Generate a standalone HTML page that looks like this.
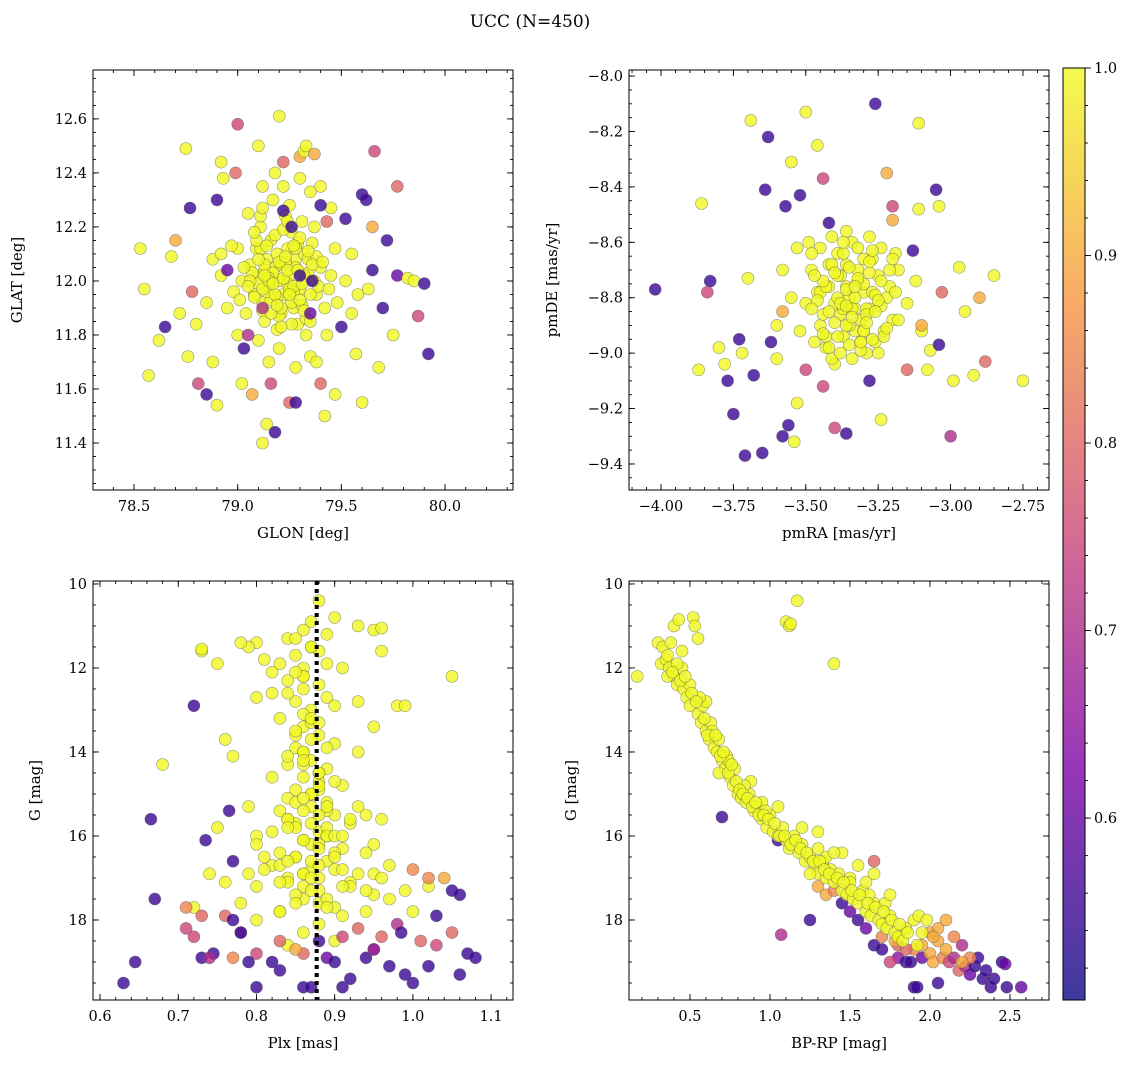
<!DOCTYPE html>
<html><head><meta charset="utf-8"><style>
body{margin:0;background:#fff;}
svg{display:block;font-family:"DejaVu Serif","Liberation Serif",serif;}
</style></head><body>
<svg id="fig" width="1135" height="1068" viewBox="0 0 1135 1068" xmlns="http://www.w3.org/2000/svg">
<text x="530" y="27" text-anchor="middle" font-size="17">UCC (N=450)</text>
</svg>
<script>
// ---- Panel 1 data: GLON / GLAT ----
const p1OutX=[78.53,78.55,78.57,78.62,78.65,78.68,78.70,78.72,78.75,78.76,78.77,78.78,78.80,78.81,78.85,78.88,78.90,78.92,78.93,78.90,78.92,78.95,78.97,78.99,79.00,79.02,79.03,79.05,79.07,79.10,79.12,79.12,79.14,79.16,79.18,79.20,79.22,79.25,79.26,79.30,79.32,79.33,79.35,79.37,79.38,79.40,79.42,79.43,79.45,79.47,79.50,79.52,79.55,79.57,79.58,79.60,79.62,79.63,79.65,79.65,79.66,79.68,79.70,79.72,79.75,79.77,79.77,79.82,79.85,79.87,79.90,79.92,79.60,79.35,79.28,79.40,79.30,79.12,79.22,79.36];
const p1OutY=[12.12,11.97,11.65,11.78,11.83,12.09,12.15,11.88,12.49,11.72,12.27,11.96,11.84,11.62,11.58,11.70,11.54,12.44,12.38,12.30,12.10,12.04,12.13,12.40,12.58,11.62,11.75,11.80,11.58,12.50,12.27,11.40,11.47,11.62,11.44,12.61,12.44,11.55,12.20,12.46,12.48,12.50,12.33,12.47,11.70,11.62,11.50,12.22,12.27,11.58,11.83,12.23,12.10,11.73,11.95,12.32,12.30,11.97,12.04,12.20,12.48,11.68,11.90,12.15,11.80,12.35,12.02,12.01,12.00,11.87,11.99,11.73,11.55,11.88,11.55,12.28,12.02,11.90,12.26,12.00];
const p1OutP=[1,1,1,1,.55,1,.9,1,1,1,.55,.8,1,.75,.55,1,1,1,1,.55,1,.6,1,.8,.75,1,.55,.7,.9,1,1,1,1,.75,.55,1,.8,.8,.55,.9,1,1,1,.9,1,.8,1,.8,1,1,.55,.55,1,1,1,.55,.55,1,.55,.9,.75,1,.55,.55,1,.8,.6,1,1,.75,.55,.55,1,.6,.55,.55,.55,.7,.55,.55];
const p1CoreX=[79.20,79.25,79.15,79.22,79.18,79.28,79.10,79.30,79.12,79.24,79.16,79.34,79.06,79.21,79.27,79.08,79.32,79.14,79.38,79.02,79.19,79.26,79.11,79.36,79.04,79.29,79.40,79.00,79.23,79.13,79.33,79.17,79.42,78.98,79.31,79.09,79.37,79.45,78.95,79.20,79.25,79.05,79.47,79.15,79.35,79.10,78.92,79.48,79.22,79.28,79.43,79.00,79.52,78.88,79.18,79.30,79.55,78.85,79.12,79.40,79.21,79.19,79.24,79.17,79.27,79.13];
const p1CoreY=[12.00,12.02,11.98,11.95,12.05,12.08,12.02,11.97,11.92,12.12,12.15,12.03,12.06,11.88,11.90,11.95,12.10,12.08,11.95,12.00,11.82,12.18,12.20,12.14,11.88,11.84,12.05,12.12,12.24,11.85,11.80,12.30,11.90,11.96,12.22,12.12,12.20,12.02,11.90,11.75,12.28,12.25,12.12,11.70,11.72,11.78,12.02,11.92,12.35,11.68,11.80,11.80,12.00,12.08,12.40,12.38,11.88,11.92,12.35,12.35,12.06,11.94,11.99,12.01,11.96,12.04];
const p1DenseX=[79.07,79.10,79.13,79.16,79.19,79.22,79.25,79.28,79.31,79.34,79.37,79.08,79.11,79.14,79.17,79.20,79.23,79.26,79.29,79.32,79.35,79.38,79.06,79.09,79.12,79.15,79.18,79.21,79.24,79.27,79.30,79.33,79.36,79.10,79.14,79.18,79.22,79.26,79.30,79.34,79.12,79.16,79.20,79.24,79.28,79.32,79.05,79.39,79.03,79.41,79.15,79.25,79.19,79.23,79.13,79.29,79.17,79.27,79.21,79.11,79.31,79.08,79.35,79.44,79.01];
const p1DenseY=[12.03,11.99,12.06,11.93,12.10,12.01,11.97,12.05,11.91,12.08,12.00,11.94,12.12,11.96,12.03,11.87,12.07,11.92,12.14,12.02,11.95,12.09,12.00,12.15,11.89,12.01,12.17,11.90,12.04,11.98,12.16,11.86,12.06,12.08,12.13,11.95,12.19,11.84,11.93,12.11,11.97,11.88,12.07,12.22,12.12,11.89,11.98,11.98,12.05,12.07,12.00,11.95,11.91,12.09,12.02,12.04,11.99,12.13,11.83,12.24,11.99,12.18,11.85,11.97,11.93];

// ---- Panel 2 data: pmRA / pmDE ----
const p2OutX=[-4.02,-3.87,-3.86,-3.83,-3.84,-3.80,-3.78,-3.77,-3.75,-3.73,-3.72,-3.70,-3.68,-3.71,-3.69,-3.65,-3.64,-3.63,-3.62,-3.60,-3.58,-3.58,-3.57,-3.56,-3.55,-3.54,-3.53,-3.52,-3.50,-3.50,-3.48,-3.46,-3.44,-3.44,-3.42,-3.40,-3.36,-3.28,-3.26,-3.24,-3.22,-3.20,-3.20,-3.13,-3.15,-3.11,-3.11,-3.10,-3.07,-3.05,-3.04,-3.03,-3.04,-3.00,-2.99,-2.97,-2.95,-2.90,-2.88,-2.85,-2.75,-2.92,-3.08];
const p2OutY=[-8.77,-9.06,-8.46,-8.74,-8.78,-8.98,-9.04,-9.10,-9.22,-8.95,-9.00,-8.73,-9.08,-9.37,-8.16,-9.36,-8.41,-8.22,-8.96,-9.02,-8.85,-9.30,-8.47,-9.26,-8.31,-9.32,-9.18,-8.43,-8.13,-9.06,-8.64,-8.25,-9.12,-8.37,-8.53,-9.27,-9.29,-9.10,-8.10,-9.24,-8.35,-8.52,-8.47,-8.63,-9.06,-8.17,-8.48,-8.90,-8.99,-8.41,-8.97,-8.78,-8.47,-9.30,-9.10,-8.69,-8.85,-8.80,-9.03,-8.72,-9.10,-9.08,-9.06];
const p2OutP=[.55,1,1,.55,.75,1,1,.55,.55,.55,1,1,.55,.55,1,.55,.55,.55,.55,1,.9,.55,.55,.55,1,1,1,.55,1,.75,1,1,.75,.75,.55,.75,.55,.55,.55,1,.9,.9,.75,.55,.8,1,1,.9,1,.55,.55,.8,1,.7,1,1,1,.9,.8,1,1,1,1];
const p2CoreX=[-3.35,-3.30,-3.40,-3.32,-3.38,-3.28,-3.42,-3.25,-3.45,-3.36,-3.33,-3.22,-3.48,-3.31,-3.39,-3.27,-3.43,-3.20,-3.50,-3.34,-3.29,-3.37,-3.24,-3.46,-3.18,-3.52,-3.41,-3.26,-3.33,-3.38,-3.30,-3.44,-3.21,-3.47,-3.35,-3.55,-3.15,-3.40,-3.28,-3.36,-3.31,-3.49,-3.23,-3.42,-3.34,-3.58,-3.12,-3.39,-3.27,-3.45,-3.32,-3.37,-3.25,-3.53,-3.19,-3.43,-3.30,-3.36,-3.41,-3.29,-3.60,-3.10];
const p2CoreY=[-8.80,-8.78,-8.82,-8.74,-8.86,-8.84,-8.76,-8.72,-8.90,-8.68,-8.92,-8.80,-8.70,-8.96,-8.64,-8.66,-8.98,-8.88,-8.82,-8.60,-9.00,-8.94,-8.62,-8.78,-8.70,-8.92,-8.58,-8.96,-8.84,-8.72,-8.66,-8.86,-8.76,-8.96,-8.90,-8.80,-8.82,-9.04,-8.58,-8.76,-8.88,-8.60,-8.92,-8.68,-9.02,-8.70,-8.74,-8.80,-8.78,-8.62,-8.70,-8.84,-9.00,-8.62,-8.64,-8.94,-8.92,-8.56,-9.02,-8.84,-8.90,-8.92];
const p2DenseX=[-3.45,-3.42,-3.39,-3.36,-3.33,-3.30,-3.27,-3.24,-3.21,-3.18,-3.44,-3.41,-3.38,-3.35,-3.32,-3.29,-3.26,-3.23,-3.20,-3.43,-3.40,-3.37,-3.34,-3.31,-3.28,-3.25,-3.22,-3.46,-3.36,-3.30,-3.40,-3.34,-3.28,-3.38,-3.32,-3.26,-3.44,-3.48,-3.19,-3.35,-3.31,-3.37,-3.29,-3.42,-3.24,-3.33,-3.39,-3.27,-3.36,-3.47];
const p2DenseY=[-8.78,-8.85,-8.72,-8.90,-8.80,-8.75,-8.95,-8.83,-8.70,-8.88,-8.93,-8.68,-8.82,-8.97,-8.73,-8.86,-8.79,-8.94,-8.66,-8.76,-8.89,-8.64,-8.84,-8.99,-8.71,-8.81,-8.91,-8.81,-8.77,-8.92,-8.71,-8.87,-8.67,-9.00,-8.62,-8.85,-8.74,-8.84,-8.78,-8.69,-8.96,-8.60,-8.89,-8.98,-8.74,-8.76,-8.94,-8.63,-8.83,-8.72];

// ---- Panel 3 data: Plx / G ----
const p3CoreX=[0.88,0.90,0.87,0.86,0.89,0.84,0.85,0.83,0.80,0.81,0.79,0.82,0.84,0.86,0.85,0.87,0.86,0.88,0.85,0.87,0.89,0.86,0.88,0.84,0.87,0.90,0.85,0.88,0.86,0.91,0.83,0.89,0.87,0.84,0.92,0.80,0.88,0.95,0.86,0.90,0.83,0.97,0.78,0.93,0.82,0.95,0.80,0.92,0.83,0.91,0.84,0.90,0.83,0.89,0.82,0.91,0.88,0.93,0.95,0.96,0.86,0.87,0.89,0.85,0.86,0.91,0.88,0.79,0.99,1.02,0.76,0.98,0.95,0.76,0.75,0.73,0.78,0.77,0.68,0.74,0.75,0.79,0.94,0.96,0.93,0.97,1.00,0.72,0.80,0.81,0.94,0.86,0.90,0.84,0.73,1.05,0.99,0.96,0.80,0.87,0.86,0.88,0.85,0.89,0.87,0.86,0.88,0.84,0.90,0.87,0.85,0.89,0.86,0.88];
const p3CoreY=[10.4,10.8,10.9,11.1,11.2,11.3,11.7,11.9,11.4,11.8,11.5,12.1,12.3,12.5,12.8,13.0,13.4,13.6,13.9,14.2,14.4,14.6,14.9,15.1,15.3,15.5,15.7,15.9,16.1,16.3,16.4,16.6,16.8,17.0,17.1,17.2,17.3,17.4,17.5,17.7,17.8,17.5,17.6,16.9,16.7,16.2,16.0,15.7,15.4,14.8,14.3,13.8,13.2,12.7,12.6,12.0,11.6,11.0,11.1,11.6,12.0,15.0,16.0,16.5,17.2,17.9,18.1,16.9,17.3,17.2,17.1,12.9,13.4,13.7,11.9,11.6,11.4,14.1,14.3,16.9,15.8,15.3,15.5,15.6,14.0,16.7,17.8,17.7,18.0,16.5,17.8,18.3,18.5,18.6,11.55,12.2,12.9,11.05,12.7,13.3,14.0,14.7,15.2,15.8,16.2,16.9,17.6,15.6,16.8,11.5,13.6,15.4,12.2,14.5];
const p3DenseX=[0.85,0.87,0.89,0.86,0.88,0.84,0.90,0.86,0.88,0.85,0.87,0.89,0.84,0.86,0.88,0.90,0.85,0.87,0.89,0.86,0.88,0.84,0.87,0.85,0.89,0.86,0.88,0.90,0.85,0.87,0.83,0.91,0.86,0.88,0.84,0.92,0.87,0.85,0.89,0.86,0.93,0.82,0.88,0.90,0.84,0.94,0.81,0.87,0.91,0.85,0.89,0.83,0.95,0.86,0.88,0.92,0.80,0.90,0.84,0.96,0.87,0.85,0.93,0.82,0.89,0.86,0.91,0.88,0.94,0.83];
const p3DenseY=[11.3,11.5,11.9,12.2,12.4,12.6,12.9,13.1,13.3,13.5,13.7,13.9,14.1,14.3,14.5,14.7,14.9,15.0,15.2,15.4,15.5,15.6,15.7,15.8,16.0,16.1,16.2,16.4,16.5,16.6,16.7,16.8,16.9,17.0,17.1,17.2,17.3,17.4,17.5,15.1,15.3,15.9,16.3,16.0,16.6,16.4,16.8,17.0,17.2,17.6,17.7,17.1,16.9,14.0,14.8,15.6,16.2,16.5,15.8,17.0,13.2,12.1,12.8,14.6,15.3,14.2,16.0,16.7,17.3,17.8];
const p3OutX=[0.71,0.73,0.71,0.72,0.76,0.78,0.77,0.80,0.83,0.86,0.85,0.91,0.93,0.95,0.96,1.00,1.02,1.04,1.01,1.03,1.05,0.98,0.63,0.645,0.665,0.67,0.72,0.735,0.73,0.745,0.765,0.77,0.78,0.79,0.80,0.82,0.83,0.86,0.88,0.87,0.91,0.92,0.94,0.95,0.97,0.985,0.99,1.00,1.02,1.03,1.05,1.06,1.07,1.08,1.06,0.74,0.89,0.77,0.90];
const p3OutY=[17.7,17.9,18.2,18.4,17.9,18.3,18.9,18.8,18.5,18.8,18.7,18.4,18.2,18.7,18.4,16.8,17.0,17.0,18.5,18.6,18.3,18.1,19.5,19.0,15.6,17.5,12.9,16.1,18.9,18.8,15.4,16.6,18.3,19.0,19.6,19.0,19.2,19.6,18.5,19.6,19.6,19.4,18.9,18.7,19.1,18.3,19.3,19.5,19.1,17.9,17.3,17.4,18.8,18.9,19.3,18.9,18.9,18.0,19.0];
const p3OutP=[.85,.8,.75,.75,.8,.75,.85,.75,.8,.8,.9,.75,.8,.8,.8,.85,.85,.9,.8,.75,.8,.7,.55,.55,.55,.55,.55,.55,.55,.55,.55,.55,.55,.55,.55,.55,.55,.55,.55,.55,.55,.55,.55,.65,.55,.55,.55,.55,.55,.55,.55,.55,.55,.55,.55,.7,.6,.55,.55];
const plxMean=[0.877];

// ---- Panel 4 data: BP-RP / G ----
const p4CoreX=[0.17,0.30,0.32,0.33,0.35,0.37,0.38,0.40,0.40,0.42,0.43,0.45,0.46,0.48,0.50,0.52,0.53,0.55,0.55,0.57,0.58,0.60,0.62,0.63,0.65,0.67,0.68,0.70,0.72,0.73,0.75,0.77,0.78,0.80,0.82,0.85,0.87,0.90,0.92,0.95,0.98,1.00,1.02,1.05,1.08,1.10,1.12,1.15,1.18,1.20,1.22,1.25,1.28,1.30,1.33,1.35,1.38,1.40,1.43,1.45,1.48,1.50,1.52,1.55,1.58,1.60,1.63,1.65,1.68,1.70,1.73,1.75,1.78,1.80,1.83,1.85,1.90,1.93,1.95,1.98,1.92,1.10,1.12,1.13,1.17,1.40,1.35,1.45,1.55,1.65,1.20,1.30,1.05,0.88,0.60,0.45,0.68,0.95,1.25,1.50,1.60,1.72,1.75,1.62,1.40,1.30,0.36,0.42,0.50,0.56,0.64,0.74,0.84,0.97];
const p4CoreY=[12.2,11.4,11.9,11.5,11.8,12.0,11.4,11.0,12.2,12.4,10.85,12.0,12.5,12.7,12.9,10.8,11.0,11.3,13.1,13.3,12.9,13.5,13.7,13.3,13.9,14.0,13.7,14.2,14.4,14.1,14.6,14.8,14.4,15.0,15.1,15.2,15.0,15.4,15.3,15.6,15.8,15.5,15.9,16.0,15.8,16.1,16.3,16.0,16.4,16.2,16.6,16.5,16.7,16.9,16.6,17.0,16.8,17.1,16.9,17.3,17.4,17.0,17.5,17.6,17.3,17.8,17.9,17.6,18.0,18.1,18.2,17.9,18.3,18.4,18.5,18.2,18.0,17.9,18.3,18.0,18.6,10.9,11.0,10.95,10.4,11.9,16.5,16.4,16.7,16.9,15.8,15.9,15.3,14.7,12.8,11.6,14.5,15.2,16.9,17.1,17.1,17.6,17.4,17.4,16.4,16.3,12.2,11.9,12.4,12.7,13.5,14.2,14.8,15.4];
const p4DenseX=[0.36,0.39,0.44,0.47,0.51,0.54,0.59,0.61,0.66,0.69,0.71,0.74,0.76,0.79,0.81,0.83,0.86,0.89,0.91,0.93,0.96,0.99,1.03,1.06,1.09,1.13,1.16,1.19,1.23,1.27,1.31,1.34,1.37,1.42,1.46,1.51,1.56,1.61,1.66,1.71,1.76,1.81,1.86];
const p4DenseY=[11.7,12.1,12.3,12.2,12.6,12.8,13.2,13.6,13.6,14.1,14.0,14.5,14.3,14.7,14.9,15.0,15.1,15.3,15.2,15.5,15.5,15.6,15.7,16.0,16.0,16.2,16.1,16.3,16.4,16.6,16.6,16.8,16.9,17.0,17.1,17.3,17.4,17.6,17.7,17.8,18.0,18.1,18.3];
const p4OutX=[0.70,1.05,1.07,1.25,1.30,1.45,1.50,1.55,1.60,1.65,1.70,1.65,1.80,1.85,1.90,1.95,2.00,2.02,2.05,2.08,2.10,2.12,2.15,2.18,2.20,2.22,2.25,2.28,2.30,2.33,2.35,2.38,2.40,2.45,2.48,2.47,2.57,1.90,1.92,1.88,1.75,1.80,2.00,2.05,2.10,1.95,1.85,2.15,2.25,2.20,2.05,1.35,1.40,1.70,1.78,2.02];
const p4OutY=[15.55,16.1,18.35,18.0,17.2,17.6,17.8,18.0,18.2,18.6,18.7,16.6,18.9,19.0,18.7,18.9,18.8,19.0,18.5,18.9,18.7,19.0,18.9,19.2,18.6,19.1,19.3,19.1,18.9,19.4,19.2,19.6,19.4,19.0,19.6,19.05,19.6,19.6,19.6,19.0,19.0,18.6,18.3,18.2,18.0,18.6,18.7,18.4,18.9,19.0,19.5,17.4,17.3,18.4,18.5,18.4];
const p4OutP=[.55,.55,.7,.55,.9,.55,.6,.55,.6,.55,.55,.8,.65,.55,.85,.6,.9,.9,.9,.85,.9,.75,.7,.8,.7,.7,.6,.55,.55,.55,.55,.55,.55,.55,.55,.6,.6,.55,.55,.55,.75,.8,.9,.9,.9,.9,.8,.85,.85,.9,.55,.9,.85,.85,.9,.9];

// ---- Colorbar ----
const cbTicks=[0.6,0.7,0.8,0.9,1.0];
const cbRange=[0.503,1.0];

const NS='http://www.w3.org/2000/svg';
const svg=document.getElementById('fig');
function mk(tag,attrs,parent){const e=document.createElementNS(NS,tag);for(const k in attrs)e.setAttribute(k,attrs[k]);(parent||svg).appendChild(e);return e;}
const stops=[[0,[13,8,135]],[0.25,[126,3,168]],[0.5,[204,71,120]],[0.75,[248,149,64]],[1,[240,249,33]]];
function plasma(t){t=Math.max(0,Math.min(1,t));for(let i=1;i<stops.length;i++){if(t<=stops[i][0]){const a=stops[i-1],b=stops[i];const f=(t-a[0])/(b[0]-a[0]);const c=a[1].map((v,j)=>Math.round(v+(b[1][j]-v)*f));return 'rgb('+c.join(',')+')';}}return 'rgb(240,249,33)';}
function colorOf(p){return plasma((p-cbRange[0])/(cbRange[1]-cbRange[0]));}
function fmt(v,d){return (v<0?'\u2212':'')+Math.abs(v).toFixed(d);}

function panel(cfg){
  const g=mk('g',{});
  
  
  const sx=v=>cfg.x0+(v-cfg.xmin)/(cfg.xmax-cfg.xmin)*(cfg.x1-cfg.x0);
  const sy=cfg.yInv?(v=>cfg.y0+(v-cfg.ymin)/(cfg.ymax-cfg.ymin)*(cfg.y1-cfg.y0)):(v=>cfg.y1-(v-cfg.ymin)/(cfg.ymax-cfg.ymin)*(cfg.y1-cfg.y0));
  const cp='clip-'+cfg.name;
  const defs=mk('defs',{},g);const c=mk('clipPath',{id:cp},defs);mk('rect',{x:cfg.x0,y:cfg.y0,width:cfg.x1-cfg.x0,height:cfg.y1-cfg.y0},c);
  const pts=mk('g',{'clip-path':'url(#'+cp+')'},g);
  
  
  cfg.series.forEach(s=>{
    const n=Math.min(s.x.length,s.y.length);
    for(let i=0;i<n;i++){
      const p=s.p?s.p[i]:1;
      const ci=mk('circle',{cx:sx(s.x[i]).toFixed(1),cy:sy(s.y[i]).toFixed(1),r:6,fill:colorOf(p),'fill-opacity':0.8,stroke:'#555',"stroke-opacity":0.6,'stroke-width':0.6},pts);
      
      
    }
  });
  if(cfg.vline!==undefined){
    const l=mk('line',{x1:sx(cfg.vline),x2:sx(cfg.vline),y1:cfg.y0,y2:cfg.y1,stroke:'#000','stroke-width':4,'stroke-dasharray':'4,4'},pts);
    
    
  }
  const fr=mk('rect',{x:cfg.x0,y:cfg.y0,width:cfg.x1-cfg.x0,height:cfg.y1-cfg.y0,fill:'none',stroke:'#000','stroke-width':1},g);
  
  
  const tk=mk('g',{stroke:'#000','stroke-width':0.9},g);
  for(let v=Math.ceil(cfg.xmin/cfg.xmn-1e-6)*cfg.xmn;v<=cfg.xmax;v+=cfg.xmn){const x=sx(v);mk('line',{x1:x,x2:x,y1:cfg.y1,y2:cfg.y1-3},tk);mk('line',{x1:x,x2:x,y1:cfg.y0,y2:cfg.y0+3},tk);}
  for(let v=Math.ceil(cfg.ymin/cfg.ymn-1e-6)*cfg.ymn;v<=cfg.ymax;v+=cfg.ymn){const y=sy(v);mk('line',{x1:cfg.x0,x2:cfg.x0+3,y1:y,y2:y},tk);mk('line',{x1:cfg.x1,x2:cfg.x1-3,y1:y,y2:y},tk);}
  cfg.xt.forEach(v=>{const x=sx(v);mk('line',{x1:x,x2:x,y1:cfg.y1,y2:cfg.y1-6},tk);mk('line',{x1:x,x2:x,y1:cfg.y0,y2:cfg.y0+6},tk);
    const t=mk('text',{x:x,y:cfg.y1+21,'text-anchor':'middle','font-size':14.5},g);t.textContent=fmt(v,cfg.xd);
    });
  cfg.yt.forEach(v=>{const y=sy(v);mk('line',{x1:cfg.x0,x2:cfg.x0+6,y1:y,y2:y},tk);mk('line',{x1:cfg.x1,x2:cfg.x1-6,y1:y,y2:y},tk);
    const t=mk('text',{x:cfg.x0-6,y:y+5,'text-anchor':'end','font-size':14.5},g);t.textContent=fmt(v,cfg.yd);
    });
  const xl=mk('text',{x:(cfg.x0+cfg.x1)/2,y:cfg.y1+48,'text-anchor':'middle','font-size':15},g);xl.textContent=cfg.xlab;
  
  const yx=cfg.ylx,yy=(cfg.y0+cfg.y1)/2;
  const yl=mk('text',{x:yx,y:yy,'text-anchor':'middle','font-size':15,transform:'rotate(-90 '+yx+' '+yy+')'},g);yl.textContent=cfg.ylab;
  
}

panel({name:'panel-glon-glat',x0:93,x1:513,y0:70,y1:490,xmin:78.302,xmax:80.328,ymin:11.226,ymax:12.781,
  xt:[78.5,79.0,79.5,80.0],xd:1,xmn:0.1,yt:[11.4,11.6,11.8,12.0,12.2,12.4,12.6],yd:1,ymn:0.05,
  xlab:'GLON [deg]',ylab:'GLAT [deg]',ylx:22,
  series:[{x:p1CoreX,y:p1CoreY},{x:p1DenseX,y:p1DenseY},{x:p1OutX,y:p1OutY,p:p1OutP}]});
panel({name:'panel-pmra-pmde',x0:629,x1:1049,y0:70,y1:490,xmin:-4.1105,xmax:-2.660,ymin:-9.494,ymax:-7.978,
  xt:[-4.0,-3.75,-3.5,-3.25,-3.0,-2.75],xd:2,xmn:0.05,yt:[-9.4,-9.2,-9.0,-8.8,-8.6,-8.4,-8.2,-8.0],yd:1,ymn:0.05,
  xlab:'pmRA [mas/yr]',ylab:'pmDE [mas/yr]',ylx:557,
  series:[{x:p2CoreX,y:p2CoreY},{x:p2DenseX,y:p2DenseY},{x:p2OutX,y:p2OutY,p:p2OutP}]});
panel({name:'panel-plx-g',x0:93,x1:513,y0:581,y1:1000,yInv:true,xmin:0.591,xmax:1.128,ymin:9.93,ymax:19.905,
  xt:[0.6,0.7,0.8,0.9,1.0,1.1],xd:1,xmn:0.02,yt:[10,12,14,16,18],yd:0,ymn:0.5,
  xlab:'Plx [mas]',ylab:'G [mag]',ylx:40,vline:plxMean[0],
  series:[{x:p3CoreX,y:p3CoreY},{x:p3DenseX,y:p3DenseY},{x:p3OutX,y:p3OutY,p:p3OutP}]});
panel({name:'panel-cmd',x0:629,x1:1049,y0:581,y1:1000,yInv:true,xmin:0.119,xmax:2.744,ymin:9.93,ymax:19.905,
  xt:[0.5,1.0,1.5,2.0,2.5],xd:1,xmn:0.1,yt:[10,12,14,16,18],yd:0,ymn:0.5,
  xlab:'BP-RP [mag]',ylab:'G [mag]',ylx:576,
  series:[{x:p4OutX,y:p4OutY,p:p4OutP},{x:p4CoreX,y:p4CoreY},{x:p4DenseX,y:p4DenseY}]});

// colorbar
(function(){
  const x0=1063,x1=1085,y0=68,y1=1000;
  const g=mk('g',{});
  
  
  const defs=mk('defs',{},g);const lg=mk('linearGradient',{id:'cbg',x1:0,y1:1,x2:0,y2:0},defs);
  for(let i=0;i<=20;i++){mk('stop',{offset:(i/20),'stop-color':plasma(i/20),'stop-opacity':0.8},lg);}
  mk('rect',{x:x0,y:y0,width:x1-x0,height:y1-y0,fill:'url(#cbg)',stroke:'#000','stroke-width':1},g);
  const sy=v=>y1-(v-cbRange[0])/(cbRange[1]-cbRange[0])*(y1-y0);
  for(let v=0.52;v<=1.0001;v+=0.02){const y=sy(v);mk('line',{x1:x1,x2:x1+3,y1:y,y2:y,stroke:'#000','stroke-width':0.9},g);}
  cbTicks.forEach(v=>{const y=sy(v);mk('line',{x1:x1,x2:x1+6,y1:y,y2:y,stroke:'#000','stroke-width':0.9},g);
    const t=mk('text',{x:x1+9,y:y+5,'font-size':14.5},g);t.textContent=v.toFixed(1);
    });
})();
</script>
</body></html>
